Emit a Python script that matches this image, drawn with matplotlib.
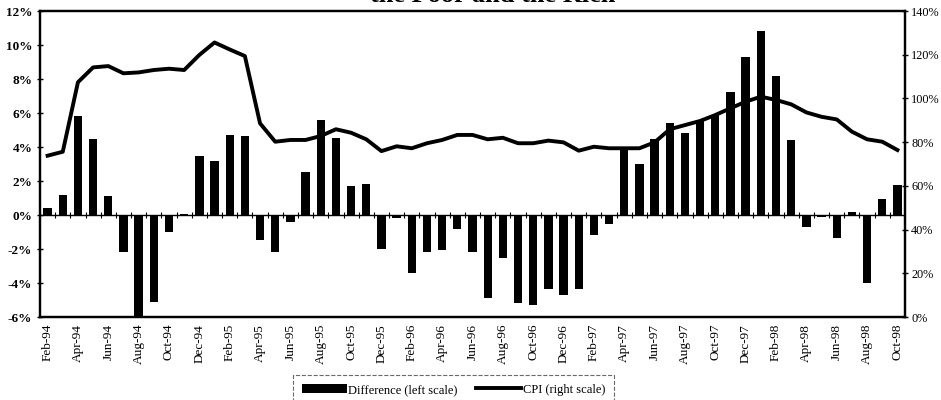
import matplotlib
matplotlib.use("Agg")
import matplotlib.pyplot as plt
from matplotlib.ticker import FuncFormatter
import numpy as np

plt.rcParams['font.family'] = ['Liberation Serif', 'DejaVu Serif']

# Monthly observations, Feb-94 .. Oct-98
months = ["Feb-94", "Mar-94", "Apr-94", "May-94", "Jun-94", "Jul-94", "Aug-94", "Sep-94",
          "Oct-94", "Nov-94", "Dec-94", "Jan-95", "Feb-95", "Mar-95", "Apr-95", "May-95",
          "Jun-95", "Jul-95", "Aug-95", "Sep-95", "Oct-95", "Nov-95", "Dec-95", "Jan-96",
          "Feb-96", "Mar-96", "Apr-96", "May-96", "Jun-96", "Jul-96", "Aug-96", "Sep-96",
          "Oct-96", "Nov-96", "Dec-96", "Jan-97", "Feb-97", "Mar-97", "Apr-97", "May-97",
          "Jun-97", "Jul-97", "Aug-97", "Sep-97", "Oct-97", "Nov-97", "Dec-97", "Jan-98",
          "Feb-98", "Mar-98", "Apr-98", "May-98", "Jun-98", "Jul-98", "Aug-98", "Sep-98",
          "Oct-98"]

# Inflation difference between poor and rich households (%, left scale)
difference = [0.4, 1.2, 5.8, 4.45, 1.1, -2.2, -6.0, -5.1,
              -1.0, 0.08, 3.5, 3.15, 4.7, 4.65, -1.45, -2.15,
              -0.4, 2.55, 5.6, 4.55, 1.7, 1.85, -2.0, -0.2,
              -3.4, -2.2, -2.05, -0.85, -2.15, -4.9, -2.5, -5.2,
              -5.3, -4.35, -4.7, -4.35, -1.2, -0.55, 3.9, 3.0,
              4.45, 5.4, 4.8, 5.6, 5.9, 7.25, 9.3, 10.8,
              8.2, 4.4, -0.7, -0.1, -1.35, 0.15, -4.0, 0.95,
              1.75]

# Consumer price inflation (%, right scale)
cpi = [73.8, 75.6, 107.4, 114.2, 114.8, 111.5, 111.9, 113.0,
       113.6, 113.0, 119.9, 125.6, 122.4, 119.4, 88.6, 80.2,
       81.0, 81.0, 82.8, 85.9, 84.3, 81.3, 75.9, 78.1,
       77.2, 79.5, 81.0, 83.3, 83.3, 81.3, 82.0, 79.5,
       79.5, 80.7, 79.9, 76.1, 77.9, 77.2, 77.2, 77.2,
       79.9, 85.9, 87.8, 89.7, 92.4, 95.5, 98.5, 100.8,
       99.3, 97.3, 93.6, 91.6, 90.4, 84.8, 81.3, 80.2,
       76.4]

x = np.arange(len(months))

fig = plt.figure(figsize=(9.41, 4.0), dpi=100)
ax = fig.add_axes([40 / 941, 1 - 317 / 400, 865 / 941, 306 / 400])

bars = ax.bar(x, difference, width=0.55, color="black", zorder=2,
              label="Difference (left scale)")
ax.set_xlim(-0.5, len(months) - 0.5)
ax.set_ylim(-6, 12)
ax.set_yticks(np.arange(-6, 13, 2))
ax.yaxis.set_major_formatter(FuncFormatter(lambda v, p: f"{v:.0f}%"))
for lbl in ax.get_yticklabels():
    lbl.set_fontweight("bold")
ax.tick_params(axis="y", labelsize=9.5, direction="inout", length=5, width=1, pad=3)

# category axis crosses at zero, labels sit along the bottom
ax.axhline(0, color="black", lw=1.0, zorder=3)
bounds = np.arange(len(months) + 1) - 0.5
ax.vlines(bounds, -0.15, 0.15, color="black", lw=0.8, zorder=3)
ax.set_xticks(x[::2])
ax.set_xticklabels(months[::2], rotation=90, fontsize=9.5)
ax.tick_params(axis="x", length=0, pad=5)

for s in ax.spines.values():
    s.set_linewidth(1.6)
    s.set_color("black")

ax2 = ax.twinx()
ax2.plot(x, cpi, color="black", lw=2.8, solid_joinstyle="round",
         label="CPI (right scale)", zorder=4)
ax2.set_ylim(0, 140)
ax2.set_yticks(np.arange(0, 141, 20))
ax2.yaxis.set_major_formatter(FuncFormatter(lambda v, p: f"{v:.0f}%"))
ax2.tick_params(axis="y", labelsize=8.8, direction="inout", length=5, width=1, pad=2)
for s in ax2.spines.values():
    s.set_linewidth(1.6)

fig.text(0.524, 0.995, "the Poor and the Rich", ha="center", va="baseline",
         fontsize=19, fontweight="bold")

handles = [bars, ax2.get_lines()[0]]
leg = fig.legend(handles, [h.get_label() for h in handles], ncol=2,
                 loc="upper center", bbox_to_anchor=(0.482, 0.078),
                 bbox_transform=fig.transFigure, fontsize=9, frameon=True,
                 fancybox=False, handlelength=3.6, handleheight=0.7,
                 columnspacing=1.5, handletextpad=0.1, borderpad=0.7)
frame = leg.get_frame()
frame.set_edgecolor("#444444")
frame.set_linestyle("--")
frame.set_linewidth(0.8)

fig.savefig("out.png", dpi=100)
